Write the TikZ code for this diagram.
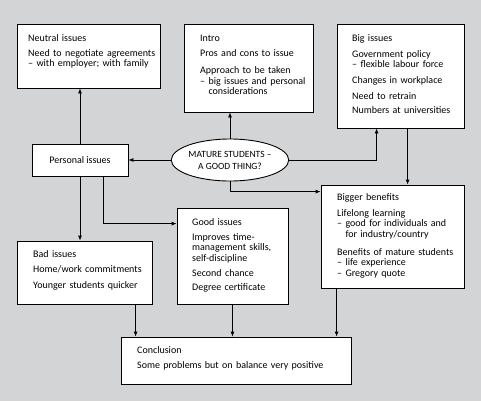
\documentclass[tikz,border=0pt]{standalone}
\usepackage{fontspec}
\setmainfont{Carlito}
\usetikzlibrary{arrows.meta,fit,shapes.geometric,calc}
\definecolor{bgc}{RGB}{211,212,214}
\begin{document}
\begin{tikzpicture}[x=1bp,y=-1bp,
  box/.style={draw=black,line width=0.8bp,fill=white,inner sep=0pt},
  txt/.style={anchor=base west,inner sep=0pt,align=left,text width=220bp,
    font=\fontsize{10bp}{10.5bp}\selectfont},
  ell/.style={draw=black,line width=0.9bp,fill=white,ellipse,inner sep=0pt,
    minimum width=116bp,minimum height=42bp,align=center,
    font=\fontsize{9.5bp}{12bp}\selectfont},
  arr/.style={draw=black,line width=0.8bp,-{Latex[length=5bp,width=4bp]}}]
\fill[bgc] (0,0) rectangle (481,401);
\useasboundingbox (0,0) rectangle (481,401);
% boxes
\node[box,fit={(17,24)(160,88)}] (neutral) {};
\node[box,fit={(184,24)(313,112)}] (intro) {};
\node[box,fit={(337,24)(464,128)}] (big) {};
\node[box,fit={(32,144)(128,176)}] (personal) {};
\node[box,fit={(321,185)(464,288)}] (bigger) {};
\node[box,fit={(177,208)(288,304)}] (good) {};
\node[box,fit={(17,241)(152,304)}] (bad) {};
\node[box,fit={(121,337)(351,384)}] (concl) {};
\node[ell] (ell) at (230,160) {MATURE STUDENTS --\\A GOOD THING?};
% texts
\node[txt] (neutralt) at (28,41) {Neutral issues\\[4.5bp]
  Need to negotiate agreements\\
  -- with employer; with family};
\node[txt] (introt) at (200,41) {Intro\\[4.5bp]
  Pros and cons to issue\\[7bp]
  Approach to be taken\\
  -- big issues and personal\\
  \phantom{-- }considerations};
\node[txt] (bigt) at (352,41) {Big issues\\[5.5bp]
  Government policy\\
  -- flexible labour force\\[5.5bp]
  Changes in workplace\\[5.5bp]
  Need to retrain\\[3.5bp]
  Numbers at universities};
\node[font=\fontsize{10bp}{10.5bp}\selectfont,inner sep=0pt] (personalt) at (personal) {Personal issues};
\node[txt] (biggert) at (337,200) {Bigger benefits\\[5.5bp]
  Lifelong learning\\
  -- good for individuals and\\
  \phantom{-- }for industry/country\\[7.5bp]
  Benefits of mature students\\
  -- life experience\\
  -- Gregory quote};
\node[txt] (goodt) at (192,225) {Good issues\\[4.5bp]
  Improves time-\\
  management skills,\\
  self-discipline\\[4.5bp]
  Second chance\\[3.5bp]
  Degree certificate};
\node[txt] (badt) at (33,257) {Bad issues\\[4.5bp]
  Home/work commitments\\[5.5bp]
  Younger students quicker};
\node[txt] (conclt) at (137,353) {Conclusion\\[5bp]
  Some problems but on balance very positive};
% connectors
\draw[arr] (personal.north) -- (personal.north |- neutral.south);
\draw[arr] (ell.north) -- (ell.north |- intro.south);
\draw[arr] (ell.west) -- (personal.east);
\coordinate (bigin) at ($(big.south west)+(40,0)$);
\draw[arr] (ell.east) -| (bigin);
\coordinate (bigout) at ($(big.south west)+(71,0)$);
\draw[arr] (bigout) -- (bigout |- bigger.north);
\coordinate (biggerin) at ($(bigger.north west)+(0,7)$);
\draw[arr] (ell.south) |- (biggerin);
\draw[arr] (personal.south) -- (personal.south |- bad.north);
\coordinate (persout) at ($(personal.south west)+(72,0)$);
\coordinate (goodin) at ($(good.north west)+(0,16)$);
\draw[arr] (persout) |- (goodin);
\coordinate (badout) at ($(bad.south west)+(119,0)$);
\draw[arr] (badout) -- (badout |- concl.north);
\draw[arr] (good.south) -- (good.south |- concl.north);
\coordinate (biggerout) at ($(bigger.south west)+(16,0)$);
\draw[arr] (biggerout) -- (biggerout |- concl.north);
\end{tikzpicture}
\end{document}
